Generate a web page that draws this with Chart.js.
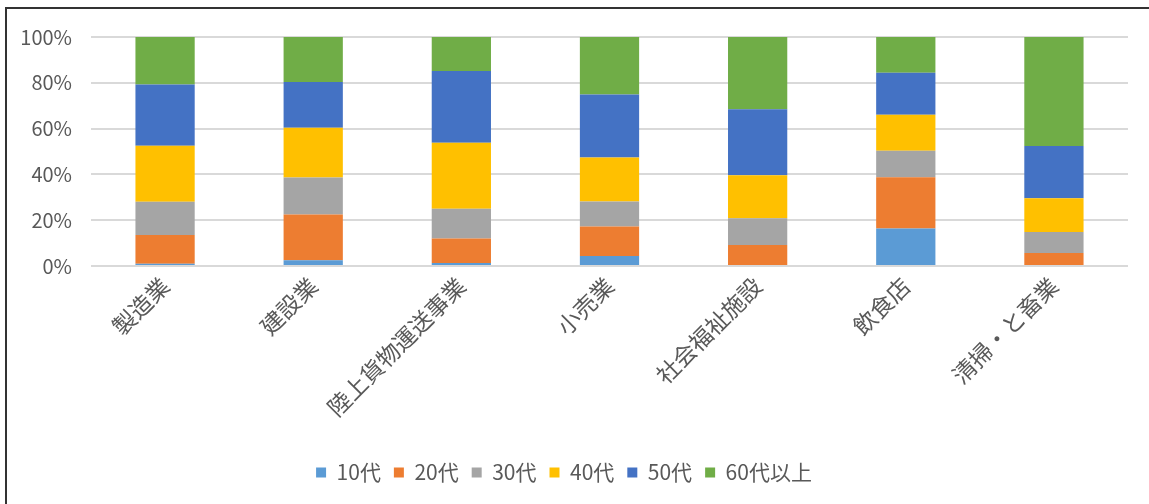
<!DOCTYPE html>
<html>
<head>
<meta charset="utf-8">
<script src="https://cdn.jsdelivr.net/npm/chart.js@4.4.1/dist/chart.umd.min.js"></script>
<style>
  body { margin: 0; background: #fff; }
  #wrap { position: relative; width: 1149px; height: 504px; }
  #frame { position: absolute; left: 5px; top: 7px; right: 0; bottom: 0;
           border-left: 2px solid #333; border-top: 2px solid #333; pointer-events: none; }
</style>
</head>
<body>
<div id="wrap">
  <canvas id="chart" width="1149" height="504"></canvas>
  <div id="frame"></div>
</div>
<script>
// 業種
const categories = ['製造業', '建設業', '陸上貨物運送事業', '小売業', '社会福祉施設', '飲食店', '清掃・と畜業'];

// 年代別の割合 (%)
const age10 = [1.0, 2.5, 1.3, 4.4, 0.0, 16.4, 0.0];
const age20 = [12.5, 20.0, 10.7, 12.9, 9.2, 22.4, 5.7];
const age30 = [14.6, 16.1, 13.0, 10.9, 11.6, 11.5, 9.2];
const age40 = [24.4, 21.8, 28.8, 19.2, 18.8, 15.8, 14.7];
const age50 = [26.8, 19.9, 31.3, 27.5, 28.8, 18.3, 22.8];
const age60 = [20.7, 19.7, 14.9, 25.1, 31.6, 15.6, 47.6];

const seriesNames = ['10代', '20代', '30代', '40代', '50代', '60代以上'];
const colors = ['#5B9BD5', '#ED7D31', '#A5A5A5', '#FFC000', '#4472C4', '#70AD47'];

const font = "'Noto Sans CJK JP', 'Noto Sans', sans-serif";

const ctx = document.getElementById('chart').getContext('2d');
const myChart = new Chart(ctx, {
    type: 'bar',
    data: {
        labels: categories,
        datasets: [age10, age20, age30, age40, age50, age60].map(function(values, i) {
            return {
                label: seriesNames[i],
                data: values,
                backgroundColor: colors[i],
                borderWidth: 0,
                barPercentage: 0.4,
                categoryPercentage: 1.0
            };
        })
    },
    options: {
        responsive: false,
        animation: false,
        layout: {
            padding: { top: 37, right: 21, bottom: 11, left: 0 }
        },
        plugins: {
            legend: {
                position: 'bottom',
                labels: {
                    boxWidth: 10,
                    boxHeight: 10,
                    padding: 13,
                    color: '#595959',
                    font: { family: font, size: 21 }
                }
            },
            tooltip: { enabled: false }
        },
        scales: {
            x: {
                stacked: true,
                grid: { display: false, drawTicks: false },
                border: { display: false },
                ticks: {
                    color: '#595959',
                    font: { family: font, size: 23 },
                    minRotation: 45,
                    maxRotation: 45,
                    padding: 6
                },
                afterFit: function(scale) { scale.height = 183; }
            },
            y: {
                stacked: true,
                min: 0,
                max: 100,
                grid: { color: '#d9d9d9', lineWidth: 2, drawTicks: false },
                border: { display: false },
                ticks: {
                    stepSize: 20,
                    color: '#595959',
                    padding: 19,
                    font: { family: font, size: 20 },
                    callback: function(v) { return v + '%'; }
                },
                afterFit: function(scale) { scale.width = 91; }
            }
        }
    }
});
</script>
</body>
</html>
